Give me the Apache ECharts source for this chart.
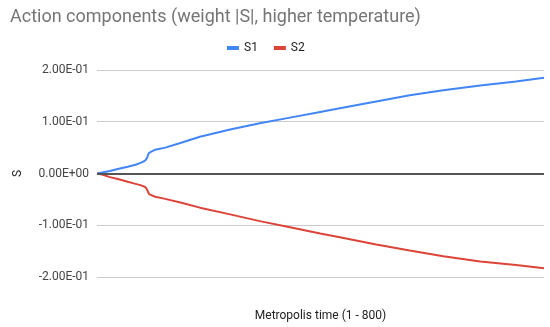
<!DOCTYPE html>
<html><head><meta charset="utf-8">
<script src="https://cdn.jsdelivr.net/npm/echarts@6/dist/echarts.min.js"></script>
<style>html,body{margin:0;padding:0;background:#fff}#c{width:550px;height:327px}</style>
</head><body><div id="c"></div>
<script>
const titleText = 'Action components (weight |S|, higher temperature)';
const xAxisName = 'Metropolis time (1 - 800)';
const yAxisName = 'S';
const seriesNames = ['S1', 'S2'];
const times = [1, 10, 24, 40, 56, 70, 80, 87, 90, 92, 94, 97, 105, 123, 150, 185, 239, 292, 346, 400, 435, 500, 560, 620, 686, 750, 800];
const s1 = [0, 0.002, 0.005, 0.009, 0.013, 0.017, 0.021, 0.025, 0.029, 0.035, 0.040, 0.043, 0.046, 0.050, 0.059, 0.071, 0.085, 0.097, 0.108, 0.119, 0.126, 0.139, 0.151, 0.161, 0.170, 0.178, 0.185];
const s2 = [0, -0.002, -0.007, -0.011, -0.016, -0.020, -0.023, -0.026, -0.030, -0.035, -0.040, -0.043, -0.045, -0.049, -0.056, -0.066, -0.079, -0.092, -0.104, -0.116, -0.123, -0.137, -0.149, -0.160, -0.170, -0.177, -0.183];
const yTicks = [-0.2, -0.1, 0, 0.1, 0.2];

function fmtE(v) {
  if (Math.abs(v) < 1e-12) return '0.00E+00';
  const s = v.toExponential(2).toUpperCase();
  const m = s.match(/^(-?[\d.]+)E([+-])(\d+)$/);
  return m[1] + 'E' + m[2] + (m[3].length < 2 ? '0' + m[3] : m[3]);
}
const chart = echarts.init(document.getElementById('c'), null, {renderer: 'canvas'});
const font = 'Roboto, sans-serif';
chart.setOption({
  animation: false,
  title: {text: titleText, left: 5, top: 3, textStyle: {fontFamily: font, fontSize: 18, fontWeight: 'normal', color: '#757575'}},
  legend: {data: seriesNames, top: 37, left: 222, itemWidth: 12, itemHeight: 4, itemGap: 16,
    icon: 'rect', textStyle: {fontFamily: font, fontSize: 12, color: '#222'}},
  grid: {left: 97, right: 6, top: 70, bottom: 49},
  xAxis: {type: 'value', min: 1, max: 800, name: xAxisName, nameLocation: 'middle', nameGap: 33,
    nameTextStyle: {fontFamily: font, fontSize: 12, color: '#222'},
    axisLine: {show: false}, axisTick: {show: false}, axisLabel: {show: false}, splitLine: {show: false}},
  yAxis: {type: 'value', min: yTicks[0], max: yTicks[yTicks.length - 1], interval: 0.1,
    name: yAxisName, nameLocation: 'middle', nameGap: 73, nameRotate: 90,
    nameTextStyle: {fontFamily: font, fontSize: 12, color: '#222'},
    axisLine: {show: false}, axisTick: {show: false},
    axisLabel: {fontFamily: font, fontSize: 12, color: '#444', margin: 8, formatter: fmtE},
    splitLine: {lineStyle: {color: '#cccccc', width: 1}}},
  series: [
    {name: seriesNames[0], type: 'line', showSymbol: false, smooth: false, data: times.map((t, i) => [t, s1[i]]),
      lineStyle: {color: '#4285F4', width: 2}, itemStyle: {color: '#4285F4'},
      markLine: {silent: true, symbol: 'none', label: {show: false}, lineStyle: {color: '#555', width: 2, type: 'solid'}, data: [{yAxis: 0}]}},
    {name: seriesNames[1], type: 'line', showSymbol: false, smooth: false, data: times.map((t, i) => [t, s2[i]]),
      lineStyle: {color: '#DB4437', width: 2}, itemStyle: {color: '#DB4437'}}
  ]
});
</script></body></html>
